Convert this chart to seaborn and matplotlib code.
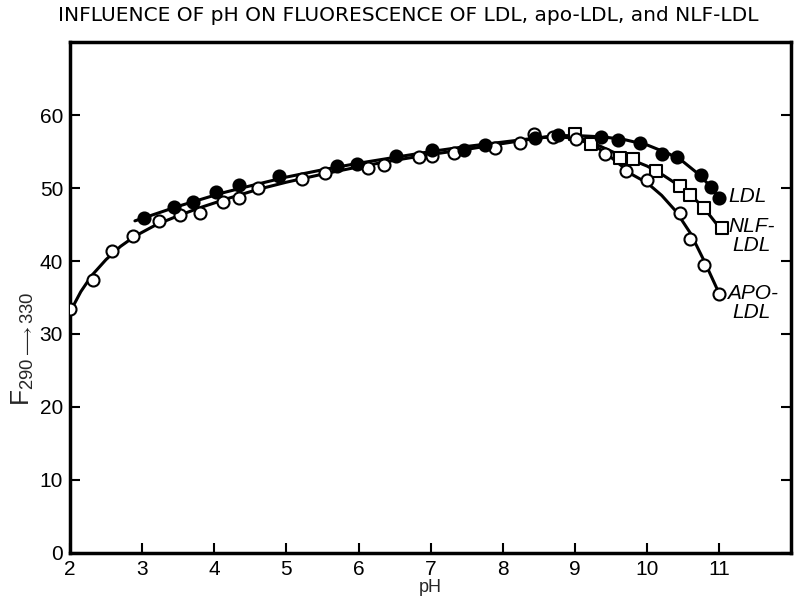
import matplotlib
matplotlib.use("Agg")
import matplotlib.pyplot as plt
import seaborn as sns
import pandas as pd

# ---- data ----
ldl_ph = [3.02, 3.44, 3.71, 4.03, 4.34, 4.9, 5.7, 5.98, 6.52, 7.02, 7.46, 7.75, 8.45,
          8.76, 9.36, 9.6, 9.9, 10.2, 10.42, 10.75, 10.89, 11.0]
ldl_f = [45.9, 47.4, 48.1, 49.5, 50.4, 51.6, 53.0, 53.3, 54.4, 55.2, 55.2, 55.9, 56.8,
         57.3, 57.0, 56.6, 56.2, 54.6, 54.3, 51.8, 50.1, 48.6]

apo_ph = [2.0, 2.32, 2.58, 2.87, 3.23, 3.53, 3.8, 4.12, 4.34, 4.6, 5.22, 5.54, 6.13, 6.35,
          6.84, 7.02, 7.32, 7.89, 8.24, 8.43, 8.7, 9.02, 9.41, 9.71, 10.0, 10.45, 10.59,
          10.79, 10.99]
apo_f = [33.4, 37.4, 41.4, 43.4, 45.5, 46.3, 46.6, 48.1, 48.6, 50.0, 51.2, 52.0, 52.8, 53.1,
         54.2, 54.4, 54.8, 55.5, 56.2, 57.4, 57.0, 56.7, 54.7, 52.3, 51.1, 46.6, 43.0,
         39.5, 35.5]

nlf_ph = [9.0, 9.22, 9.63, 9.8, 10.12, 10.45, 10.6, 10.79, 11.03]
nlf_f = [57.4, 56.0, 54.1, 54.0, 52.3, 50.3, 49.0, 47.2, 44.5]

# drawn smooth curves
ldl_curve_ph = [2.9, 3.2, 3.5, 3.8, 4.1, 4.5, 5.0, 5.5, 6.0, 6.5, 7.0, 7.5, 8.0, 8.5, 9.0,
                9.4, 9.7, 10.0, 10.3, 10.5, 10.7, 10.85, 11.0]
ldl_curve_f = [45.5, 46.5, 47.5, 48.4, 49.3, 50.3, 51.5, 52.5, 53.4, 54.2, 55.0, 55.7, 56.3,
               56.9, 57.2, 57.0, 56.6, 55.9, 54.7, 53.6, 52.0, 50.5, 48.6]

apo_curve_ph = [2.0, 2.15, 2.3, 2.5, 2.7, 2.9, 3.2, 3.5, 3.8, 4.2, 4.6, 5.0, 5.5, 6.0, 6.5,
                7.0, 7.5, 8.0, 8.4, 8.7, 9.0, 9.2, 9.4, 9.6, 9.8, 10.0, 10.2, 10.4, 10.6,
                10.8, 11.0]
apo_curve_f = [33.0, 35.8, 38.0, 40.2, 42.0, 43.4, 45.0, 46.2, 47.3, 48.6, 49.8, 50.8, 51.9,
               52.9, 53.8, 54.6, 55.3, 56.1, 56.7, 57.1, 56.8, 56.1, 55.0, 53.4, 51.8, 50.7,
               49.0, 46.8, 43.8, 39.8, 35.5]

nlf_curve_ph = [8.5, 8.8, 9.0, 9.2, 9.4, 9.6, 9.8, 10.0, 10.2, 10.4, 10.6, 10.8, 11.0]
nlf_curve_f = [56.9, 57.2, 57.1, 56.4, 55.5, 54.6, 53.8, 53.0, 51.9, 50.6, 49.1, 47.1, 44.6]

x_ticks = [2, 3, 4, 5, 6, 7, 8, 9, 10, 11]
y_ticks = [0, 10, 20, 30, 40, 50, 60]

title = "INFLUENCE OF pH ON FLUORESCENCE OF LDL, apo-LDL, and NLF-LDL"

# ---- plot ----
sns.set_style("ticks")
plt.rcParams['font.family'] = ['Liberation Sans', 'DejaVu Sans']
plt.rcParams['mathtext.fontset'] = 'custom'
plt.rcParams['mathtext.rm'] = 'Liberation Sans'
plt.rcParams['mathtext.it'] = 'Liberation Sans:italic'

fig = plt.figure(figsize=(7.99, 6.01), dpi=100)
ax = fig.add_axes([0.0876, 0.080, 0.903, 0.850])

for cx, cy in [(ldl_curve_ph, ldl_curve_f), (apo_curve_ph, apo_curve_f),
               (nlf_curve_ph, nlf_curve_f)]:
    sns.lineplot(x=cx, y=cy, ax=ax, color="black", linewidth=2.2, sort=False,
                 estimator=None, zorder=2)

sns.scatterplot(x=nlf_ph, y=nlf_f, ax=ax, marker="s", s=80, facecolor="white",
                edgecolor="black", linewidth=1.5, zorder=3)
sns.scatterplot(x=apo_ph, y=apo_f, ax=ax, marker="o", s=75, facecolor="white",
                edgecolor="black", linewidth=1.5, zorder=4)
sns.scatterplot(x=ldl_ph, y=ldl_f, ax=ax, marker="o", s=75, facecolor="black",
                edgecolor="black", linewidth=1.5, zorder=5)

ax.set_xlim(2, 12)
ax.set_ylim(0, 70)
ax.set_xticks(x_ticks)
ax.set_xticklabels([str(t) for t in x_ticks])
ax.set_yticks(y_ticks)
ax.set_yticklabels([str(t) for t in y_ticks])
ax.tick_params(direction="in", length=7, width=1.5, labelsize=15, colors="black")
ax.tick_params(axis="y", right=True, pad=5)
ax.tick_params(axis="x", pad=5)
for sp in ax.spines.values():
    sp.set_visible(True)
    sp.set_linewidth(2.5)
    sp.set_color("black")

ax.set_xlabel("pH", fontsize=13, labelpad=0)
ax.set_ylabel(r"F$_{290 \longrightarrow 330}$", fontsize=19)
ax.yaxis.set_label_coords(-0.047, 0.40)

lab = dict(fontsize=15, style="italic", color="black", va="center", ha="left")
ax.text(11.13, 48.8, "LDL", **lab)
ax.text(11.13, 44.7, "NLF-", **lab)
ax.text(11.18, 42.1, "LDL", **lab)
ax.text(11.1, 35.6, "APO-", **lab)
ax.text(11.18, 32.9, "LDL", **lab)

fig.text(0.511, 0.975, title, ha="center", va="center", fontsize=14.5, color="black",
         family="DejaVu Sans")

fig.savefig("out.png", dpi=100)
